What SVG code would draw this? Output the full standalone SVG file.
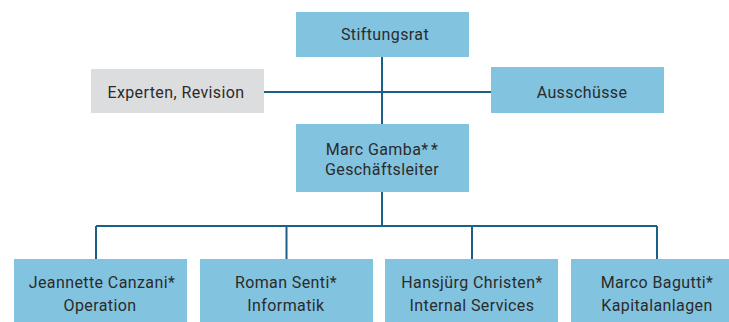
<svg xmlns="http://www.w3.org/2000/svg" width="729" height="322" viewBox="0 0 729 322">
<style>
.box{fill:#82c3e0}
.gray{fill:#dcdddf}
.t{font-family:Roboto,"Liberation Sans",sans-serif;font-size:16px;letter-spacing:0.4px;fill:#2b2b2b;text-anchor:middle}
.c{stroke:#1b6088;stroke-width:2;fill:none}
</style>
<rect width="729" height="322" fill="#ffffff"/>
<g id="connectors">
<path class="c" d="M382 57V124M264 92H491M382 192V226M96 226H657M96 226V259M286.5 226V259M472 226V259M657 226V259"/>
</g>
<g id="stiftungsrat"><rect class="box" x="296" y="12" width="173" height="45"/><text class="t" x="385" y="40">Stiftungsrat</text></g>
<g id="experten"><rect class="gray" x="91" y="69" width="173" height="44"/><text class="t" x="176" y="98">Experten, Revision</text></g>
<g id="ausschuesse"><rect class="box" x="491" y="67" width="173" height="46"/><text class="t" x="582" y="98">Ausschüsse</text></g>
<g id="gamba"><rect class="box" x="296" y="124" width="173" height="68"/><text class="t" x="382" y="155">Marc Gamba*<tspan dx="2.5">*</tspan></text><text class="t" x="382" y="175">Geschäftsleiter</text></g>
<g id="canzani"><rect class="box" x="14" y="259" width="173" height="63"/><text class="t" x="102" y="288">Jeannette Canzani*</text><text class="t" x="100" y="311">Operation</text></g>
<g id="senti"><rect class="box" x="200" y="259" width="173" height="63"/><text class="t" x="286" y="288">Roman Senti*</text><text class="t" x="286" y="311">Informatik</text></g>
<g id="christen"><rect class="box" x="385" y="259" width="173" height="63"/><text class="t" x="472" y="288">Hansjürg Christen*</text><text class="t" x="472" y="311">Internal Services</text></g>
<g id="bagutti"><rect class="box" x="571" y="259" width="173" height="63"/><text class="t" x="657" y="288">Marco Bagutti*</text><text class="t" x="657" y="311">Kapitalanlagen</text></g>
</svg>
